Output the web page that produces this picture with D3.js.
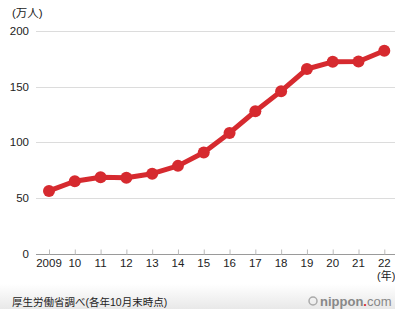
<!DOCTYPE html>
<html>
<head>
<meta charset="utf-8">
<script src="https://cdn.jsdelivr.net/npm/d3@7"></script>
<style>
  html, body { margin: 0; padding: 0; background: #fff; overflow: hidden; }
  #chart { width: 395px; height: 309px; }
  text { font-family: "Liberation Sans", "Noto Sans CJK JP", sans-serif; }
</style>
</head>
<body>
<div id="chart"></div>
<script>
const years = [2009, 2010, 2011, 2012, 2013, 2014, 2015, 2016, 2017, 2018, 2019, 2020, 2021, 2022];
const yearLabels = ["2009", "10", "11", "12", "13", "14", "15", "16", "17", "18", "19", "20", "21", "22"];
const workers = [56.3, 65.0, 68.6, 68.2, 71.8, 78.8, 90.8, 108.4, 127.9, 146.0, 165.9, 172.4, 172.7, 182.3];
const yTicks = [0, 50, 100, 150, 200];

(function() {
  const width = 395;
  const height = 309;
  const red = "#d62a2f";

  const svg = d3.select("#chart")
    .append("svg")
    .attr("width", width)
    .attr("height", height);

  // bottom footer gradient
  const grad = svg.append("defs").append("linearGradient")
    .attr("id", "foot").attr("x1", 0).attr("x2", 0).attr("y1", 0).attr("y2", 1);
  grad.append("stop").attr("offset", "0%").attr("stop-color", "#fff");
  grad.append("stop").attr("offset", "100%").attr("stop-color", "#e8e8e8");
  svg.append("rect").attr("x", 0).attr("y", 284).attr("width", width).attr("height", 25)
    .attr("fill", "url(#foot)");

  const x = d3.scaleLinear().domain([2009, 2022]).range([49, 384.3]);
  const y = d3.scaleLinear().domain([0, 200]).range([253.5, 31.1]);

  // gridlines
  svg.append("g")
    .selectAll("line")
    .data(yTicks.filter(d => d > 0))
    .join("line")
    .attr("x1", 36).attr("x2", width)
    .attr("y1", d => Math.round(y(d)) + 0.5).attr("y2", d => Math.round(y(d)) + 0.5)
    .attr("stroke", "#dcdcdc").attr("stroke-width", 1);

  // y labels
  svg.append("g")
    .selectAll("text")
    .data(yTicks)
    .join("text")
    .attr("x", 29)
    .attr("y", d => y(d) + 4)
    .attr("text-anchor", "end")
    .attr("font-size", 11.5)
    .attr("fill", "#222")
    .text(d => d);

  // x axis
  const xAxis = d3.axisTop(x)
    .tickValues(years)
    .tickSize(5)
    .tickFormat("");
  const gx = svg.append("g")
    .attr("transform", `translate(0, ${Math.round(y(0)) + 0.5})`)
    .call(xAxis);
  gx.select(".domain").attr("d", `M36,0H${width}`).attr("stroke", "#9a9a9a");
  gx.selectAll(".tick line").attr("stroke", "#bbb");

  svg.append("g")
    .selectAll("text")
    .data(years)
    .join("text")
    .attr("x", d => x(d))
    .attr("y", 267)
    .attr("text-anchor", "middle")
    .attr("font-size", 11.5)
    .attr("fill", "#222")
    .text((d, i) => yearLabels[i]);

  // line
  const line = d3.line()
    .x((d, i) => x(years[i]))
    .y(d => y(d));

  svg.append("path")
    .datum(workers)
    .attr("fill", "none")
    .attr("stroke", red)
    .attr("stroke-width", 5)
    .attr("stroke-linejoin", "round")
    .attr("d", line);

  svg.append("g")
    .selectAll("circle")
    .data(workers)
    .join("circle")
    .attr("cx", (d, i) => x(years[i]))
    .attr("cy", d => y(d))
    .attr("r", 6)
    .attr("fill", red);

  // units
  svg.append("text").attr("x", 12).attr("y", 17)
    .attr("font-size", 11.5).attr("fill", "#222").text("(万人)");
  svg.append("text").attr("x", 377).attr("y", 280)
    .attr("font-size", 11).attr("fill", "#222").text("(年)");

  // source
  svg.append("text").attr("x", 12).attr("y", 306)
    .attr("font-size", 10.5).attr("fill", "#222").text("厚生労働省調べ(各年10月末時点)");

  // logo
  const logo = svg.append("g");
  logo.append("circle").attr("cx", 313).attr("cy", 301).attr("r", 4)
    .attr("fill", "none").attr("stroke", "#aaa").attr("stroke-width", 1.5);
  const t = logo.append("text").attr("x", 320).attr("y", 306)
    .attr("font-size", 13).attr("font-weight", "bold").attr("fill", "#888");
  t.append("tspan").text("nippon");
  t.append("tspan").attr("fill", red).text(".");
  t.append("tspan").attr("font-weight", "normal").text("com");
})();
</script>
</body>
</html>
